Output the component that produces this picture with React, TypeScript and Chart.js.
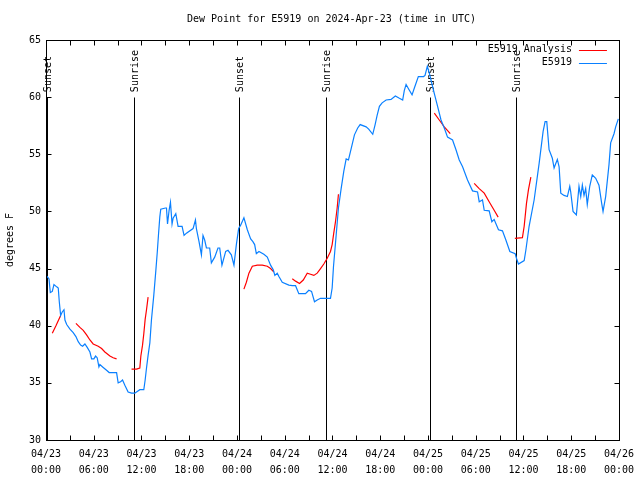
import React, { useEffect, useRef } from 'react';
import { Chart, registerables } from 'chart.js';

Chart.register(...registerables);

const TITLE = 'Dew Point for E5919 on 2024-Apr-23 (time in UTC)';
const Y_TITLE = 'degrees F';
const FONT = '"DejaVu Sans Mono", "Liberation Mono", monospace';
const BLUE = '#0a80ff';
const RED = '#ff0000';

const xTickDates = ['04/23', '04/23', '04/23', '04/23', '04/24', '04/24', '04/24', '04/24', '04/25', '04/25', '04/25', '04/25', '04/26'];
const xTickTimes = ['00:00', '06:00', '12:00', '18:00', '00:00', '06:00', '12:00', '18:00', '00:00', '06:00', '12:00', '18:00', '00:00'];

const sunHours = [0.09, 11.08, 24.25, 35.19, 48.29, 59.12];
const sunLabels = ['Sunset', 'Sunrise', 'Sunset', 'Sunrise', 'Sunset', 'Sunrise'];

// hours since 2024-04-23 00:00 UTC
const blueHours = [
  0.0, 0.16, 0.38, 0.54, 0.79, 1.0, 1.34, 1.54, 1.67, 1.84,
  2.04, 2.26, 2.38, 2.6, 3.01, 3.42, 3.76, 4.05, 4.35, 4.6,
  4.89, 5.18, 5.52, 5.73, 6.02, 6.23, 6.43, 6.65, 6.77, 7.19,
  7.61, 7.94, 8.87, 9.07, 9.37, 9.62, 9.91, 10.32, 10.75, 11.16,
  11.79, 12.29, 12.46, 12.63, 12.83, 13.05, 13.25, 13.55, 13.8, 13.99,
  14.14, 14.3, 14.42, 15.01, 15.14, 15.27, 15.47, 15.64, 15.84, 15.97,
  16.31, 16.6, 17.1, 17.35, 17.65, 18.48, 18.78, 18.9, 19.23, 19.53,
  19.73, 19.94, 20.16, 20.57, 20.78, 21.2, 21.61, 21.83, 22.11, 22.58,
  22.87, 23.29, 23.62, 23.92, 24.21, 24.46, 24.87, 25.3, 25.72, 26.0,
  26.22, 26.43, 26.76, 27.38, 27.81, 28.22, 28.56, 28.76, 29.06, 29.27,
  29.69, 30.52, 30.95, 31.36, 31.77, 32.61, 33.03, 33.37, 33.74, 34.08,
  34.5, 35.75, 35.96, 36.13, 36.46, 36.75, 37.09, 37.42, 37.72, 38.01,
  38.35, 38.76, 39.17, 39.48, 40.23, 40.55, 41.06, 41.36, 41.61, 41.9,
  42.24, 42.74, 43.36, 43.9, 44.41, 44.82, 45.03, 45.25, 45.66, 46.0,
  46.29, 46.79, 47.45, 47.63, 47.92, 48.17, 48.38, 48.8, 49.21, 49.64,
  50.05, 50.46, 51.09, 51.52, 51.93, 52.35, 52.97, 53.6, 54.23, 54.44,
  54.85, 55.07, 55.69, 56.03, 56.32, 56.86, 57.36, 57.79, 58.29, 58.96,
  59.12, 59.37, 60.09, 60.3, 60.71, 61.34, 61.97, 62.47, 62.72, 62.93,
  63.22, 63.63, 63.85, 64.06, 64.26, 64.48, 64.69, 65.1, 65.52, 65.82,
  65.94, 66.23, 66.65, 66.98, 67.2, 67.4, 67.61, 67.82, 68.02, 68.33,
  68.65, 69.08, 69.49, 69.83, 70.0, 70.33, 70.75, 70.96, 71.38, 71.59,
  71.92,
];
const blueDew = [
  44.2, 44.3, 44.1, 42.9, 43.0, 43.6, 43.4, 43.3, 42.1, 40.9,
  41.2, 41.4, 40.5, 40.1, 39.7, 39.4, 39.05, 38.6, 38.3, 38.2,
  38.4, 38.1, 37.7, 37.1, 37.1, 37.35, 37.2, 36.4, 36.6, 36.35,
  36.1, 35.9, 35.9, 35.0, 35.1, 35.25, 34.8, 34.2, 34.1, 34.1,
  34.4, 34.4, 35.25, 36.3, 37.4, 38.5, 40.5, 42.7, 44.8, 46.5,
  48.0, 49.5, 50.2, 50.3, 50.3, 48.9, 50.1, 50.8, 48.9, 49.4,
  49.8, 48.7, 48.7, 47.9, 48.1, 48.5, 49.25, 48.5, 47.35, 46.2,
  47.9, 47.5, 46.8, 46.8, 45.5, 46.0, 46.8, 46.8, 45.3, 46.5,
  46.6, 46.2, 45.3, 47.1, 48.5, 48.8, 49.45, 48.4, 47.6, 47.35,
  47.1, 46.3, 46.5, 46.25, 46.0, 45.3, 44.9, 44.4, 44.6, 44.3,
  43.8, 43.55, 43.5, 43.5, 42.8, 42.8, 43.1, 43.0, 42.1, 42.25,
  42.4, 42.4, 43.3, 45.2, 47.9, 50.3, 52.0, 53.5, 54.6, 54.5,
  55.5, 56.7, 57.3, 57.6, 57.4, 57.2, 56.75, 57.6, 58.4, 59.2,
  59.5, 59.75, 59.8, 60.1, 59.9, 59.75, 60.6, 61.1, 60.6, 60.2,
  60.8, 61.8, 61.8, 61.9, 62.7, 62.1, 61.5, 60.3, 59.2, 58.0,
  57.3, 56.5, 56.25, 55.4, 54.5, 53.9, 52.75, 51.8, 51.7, 50.85,
  51.0, 50.1, 50.05, 49.1, 49.3, 48.4, 48.3, 47.5, 46.5, 46.3,
  45.9, 45.4, 45.7, 46.6, 48.7, 51.0, 54.2, 57.0, 57.85, 57.85,
  55.4, 54.65, 53.8, 54.2, 54.55, 53.9, 51.6, 51.4, 51.3, 52.2,
  51.7, 50.0, 49.7, 52.2, 51.3, 52.3, 51.4, 52.0, 50.6, 52.2,
  53.2, 52.9, 52.3, 50.7, 50.0, 51.3, 54.1, 56.0, 56.8, 57.4,
  58.1,
];

// analysis segments; null marks a break between segments
const redHours = [
  0.79, 1.25, 1.84, 2.5,
  3.76, 4.26, 4.68, 5.1, 5.52, 5.93, 6.56, 6.99, 7.4, 8.03, 8.44, 8.87, 9.5,
  10.75, 11.38, 11.79, 11.92, 12.13, 12.29, 12.46, 12.63, 12.83, 18,
  24.87, 25.18, 25.5, 25.93, 26.55, 27.18, 27.81, 28.22, 28.64, 29.5,
  30.95, 31.36, 31.86, 32.33, 32.83, 33.24, 33.66, 34.08, 34.5, 34.91, 35.34, 35.75, 35.96, 36.16, 36.38, 36.59, 36.75, 42,
  48.8, 49.42, 50.05, 50.8, 52,
  53.81, 54.44, 55.07, 55.69, 56.32, 56.82, 58,
  58.92, 59.87, 60.09, 60.38, 60.63, 60.93,
];
const redDew = [
  39.35, 40.0, 40.9, null,
  40.2, 39.85, 39.6, 39.2, 38.75, 38.4, 38.2, 38.0, 37.7, 37.35, 37.2, 37.1, null,
  36.2, 36.2, 36.3, 37.35, 38.3, 39.3, 40.55, 41.4, 42.5, null,
  43.2, 43.8, 44.6, 45.2, 45.3, 45.3, 45.2, 45.0, 44.7, null,
  44.1, 43.9, 43.7, 44.0, 44.6, 44.5, 44.4, 44.6, 45.0, 45.4, 45.9, 46.5, 47.1, 48.1, 49.1, 50.3, 51.5, null,
  58.6, 58.0, 57.4, 56.8, null,
  52.45, 52.0, 51.6, 50.85, 50.1, 49.5, null,
  47.65, 47.7, 48.7, 50.7, 51.9, 53.0,
];

const decor = {
  id: 'decor',
  beforeDatasetsDraw(chart: any) {
    const { ctx, chartArea: a, scales } = chart;
    const x = scales.x;
    const y = scales.y;
    ctx.save();
    ctx.strokeStyle = '#000';
    ctx.fillStyle = '#000';
    ctx.lineWidth = 1;
    ctx.font = `10px ${FONT}`;
    const topY = y.getPixelForValue(60);
    sunHours.forEach((h, i) => {
      const px = Math.round(x.getPixelForValue(h)) + 0.5;
      ctx.beginPath();
      ctx.moveTo(px, Math.round(topY) + 0.5);
      ctx.lineTo(px, a.bottom);
      ctx.stroke();
      ctx.save();
      ctx.translate(px + 1, topY - 5);
      ctx.rotate(-Math.PI / 2);
      ctx.textAlign = 'left';
      ctx.textBaseline = 'middle';
      ctx.fillText(sunLabels[i], 0, 0);
      ctx.restore();
    });
    ctx.restore();
  },
  afterDraw(chart: any) {
    const { ctx, chartArea: a, scales } = chart;
    const x = scales.x;
    const y = scales.y;
    ctx.save();
    ctx.strokeStyle = '#000';
    ctx.fillStyle = '#000';
    ctx.lineWidth = 1;
    const L = Math.round(a.left) + 0.5;
    const R = Math.round(a.right) + 0.5;
    const T = Math.round(a.top) + 0.5;
    const B = Math.round(a.bottom) + 0.5;
    ctx.strokeRect(L, T, R - L, B - T);
    const tl = 5;
    y.ticks.forEach((t: any) => {
      const py = Math.round(y.getPixelForValue(t.value)) + 0.5;
      ctx.beginPath();
      ctx.moveTo(L, py); ctx.lineTo(L + tl, py);
      ctx.moveTo(R, py); ctx.lineTo(R - tl, py);
      ctx.stroke();
    });
    for (let h = x.min; h <= x.max; h += 3) {
      const px = Math.round(x.getPixelForValue(h)) + 0.5;
      ctx.beginPath();
      ctx.moveTo(px, B); ctx.lineTo(px, B - tl);
      ctx.moveTo(px, T); ctx.lineTo(px, T + tl);
      ctx.stroke();
    }
    ctx.font = `10px ${FONT}`;
    // title
    ctx.textAlign = 'center';
    ctx.textBaseline = 'middle';
    ctx.fillText(TITLE, (a.left + a.right) / 2 - 1, a.top - 21);
    // y title
    ctx.save();
    ctx.translate(10, (a.top + a.bottom) / 2);
    ctx.rotate(-Math.PI / 2);
    ctx.fillText(Y_TITLE, 0, 0);
    ctx.restore();
    // legend
    const items = [
      { label: chart.data.datasets[1].label, color: RED },
      { label: chart.data.datasets[0].label, color: BLUE },
    ];
    items.forEach((it, i) => {
      const ly = a.top + 9.5 + i * 13;
      ctx.textAlign = 'right';
      ctx.fillStyle = '#000';
      ctx.fillText(it.label, a.right - 47, ly);
      ctx.strokeStyle = it.color;
      ctx.beginPath();
      ctx.moveTo(a.right - 40, Math.round(ly) + 0.5);
      ctx.lineTo(a.right - 12, Math.round(ly) + 0.5);
      ctx.stroke();
    });
    ctx.restore();
  },
};

export default function App() {
  const ref = useRef<HTMLCanvasElement>(null);
  useEffect(() => {
    const bluePoints = blueHours.map((h, i) => ({ x: h, y: blueDew[i] }));
    const redPoints = redHours.map((h, i) => ({ x: h, y: redDew[i] }));
    const tickFont = { family: FONT, size: 10 };
    const chart = new Chart(ref.current as HTMLCanvasElement, {
      type: 'line',
      data: {
        datasets: [
          { label: 'E5919', data: bluePoints as any, borderColor: BLUE, borderWidth: 1.2, pointRadius: 0, tension: 0, spanGaps: false },
          { label: 'E5919 Analysis', data: redPoints as any, borderColor: RED, borderWidth: 1.2, pointRadius: 0, tension: 0, spanGaps: false },
        ],
      },
      options: {
        responsive: false,
        animation: false,
        devicePixelRatio: 1,
        layout: { padding: { top: 40, right: 19, left: 0, bottom: 0 } },
        plugins: { legend: { display: false }, title: { display: false }, tooltip: { enabled: false } },
        scales: {
          x: {
            type: 'linear',
            min: 0,
            max: 72,
            grid: { display: false, drawTicks: false },
            border: { display: false },
            afterFit: (s: any) => { s.height = 40; },
            ticks: {
              stepSize: 6,
              autoSkip: false,
              maxRotation: 0,
              minRotation: 0,
              padding: 6,
              color: '#000',
              font: { ...tickFont, lineHeight: 1.6 },
              callback: (v: any) => {
                const i = Math.round(Number(v) / 6);
                return [xTickDates[i], xTickTimes[i]];
              },
            },
          },
          y: {
            min: 30,
            max: 65,
            grid: { display: false, drawTicks: false },
            border: { display: false },
            afterFit: (s: any) => { s.width = 46; },
            ticks: { stepSize: 5, padding: 5, color: '#000', font: tickFont },
          },
        },
      },
      plugins: [decor],
    });
    return () => chart.destroy();
  }, []);
  return (
    <div style={{ position: 'fixed', left: 0, top: 0, width: 640, height: 480, background: '#fff' }}>
      <canvas ref={ref} width={640} height={480} style={{ display: 'block', width: 640, height: 480 }} />
    </div>
  );
}
